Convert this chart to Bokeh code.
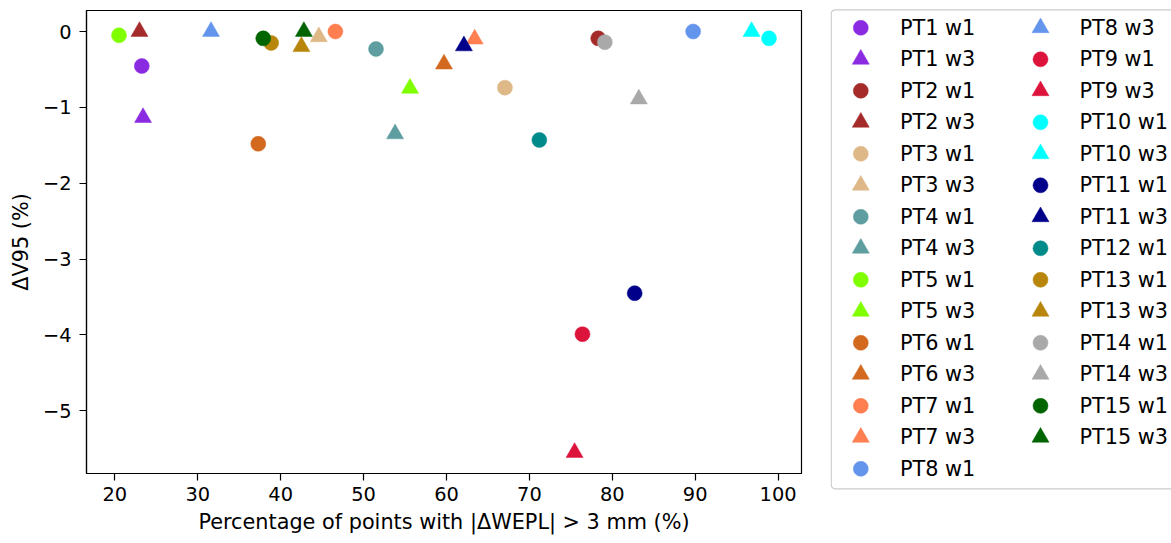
from bokeh.plotting import figure
from bokeh.models import FixedTicker, Range1d, Quad
from bokeh.layouts import row
from bokeh.core.properties import value
from bokeh.embed import file_html
from bokeh.resources import INLINE

# ---- data ----
patients = ["PT1", "PT2", "PT3", "PT4", "PT5", "PT6", "PT7", "PT8",
            "PT9", "PT10", "PT11", "PT12", "PT13", "PT14", "PT15"]
colors = ["blueviolet", "brown", "burlywood", "cadetblue", "chartreuse",
          "chocolate", "coral", "cornflowerblue", "crimson", "cyan",
          "darkblue", "darkcyan", "darkgoldenrod", "darkgray", "darkgreen"]

w1_x = [23.25, 78.3, 67.05, 51.5, 20.5, 37.3, 46.6, 89.75,
        76.4, 98.9, 82.7, 71.2, 38.85, 79.1, 37.9]
w1_y = [-0.455, -0.09, -0.74, -0.23, -0.05, -1.48, 0.0, 0.0,
        -3.99, -0.09, -3.45, -1.43, -0.15, -0.14, -0.09]

# None = no week-3 value (PT12)
w3_x = [23.4, 22.97, 44.6, 53.8, 55.6, 59.7, 63.4, 31.6,
        75.45, 96.8, 62.1, None, 42.5, 83.2, 42.8]
w3_y = [-1.135, 0.0, -0.07, -1.35, -0.75, -0.43, -0.1, 0.0,
        -5.55, 0.0, -0.19, None, -0.2, -0.89, 0.0]

x_ticks = [20, 30, 40, 50, 60, 70, 80, 90, 100]
y_ticks = [-5, -4, -3, -2, -1, 0]
y_tick_labels = ["\u22125", "\u22124", "\u22123", "\u22122", "\u22121", "0"]

x_label = "Percentage of points with |\u0394WEPL| > 3 mm (%)"
y_label = "\u0394V95 (%)"

FONT = "DejaVu Sans"
CIRCLE_SIZE = 15
TRIANGLE_SIZE = 17

# ---------------- main scatter plot ----------------
p = figure(width=830, height=543, output_backend="svg", toolbar_location=None,
           x_range=Range1d(16.58, 102.82), y_range=Range1d(-5.827, 0.277),
           min_border_left=86, min_border_right=29, min_border_top=10,
           min_border_bottom=70)
p.frame_align = False
p.background_fill_color = "white"
p.border_fill_color = "white"
p.outline_line_color = "black"
p.outline_line_width = 1.2
p.grid.visible = False

for ax in (p.xaxis[0], p.yaxis[0]):
    ax.axis_line_color = "black"
    ax.axis_line_width = 1.2
    ax.major_tick_line_color = "black"
    ax.major_tick_line_width = 1.2
    ax.major_tick_out = 7
    ax.major_tick_in = 0
    ax.minor_tick_line_color = None
    ax.major_label_text_font = FONT
    ax.major_label_text_font_size = "19.4px"
    ax.major_label_text_color = "black"
    ax.axis_label_text_font = FONT
    ax.axis_label_text_font_size = "20.8px"
    ax.axis_label_text_font_style = "normal"
    ax.axis_label_text_color = "black"

p.xaxis.ticker = FixedTicker(ticks=x_ticks)
p.yaxis.ticker = FixedTicker(ticks=y_ticks)
p.yaxis.major_label_overrides = {t: l for t, l in zip(y_ticks, y_tick_labels)}
p.xaxis.axis_label = x_label
p.yaxis.axis_label = y_label
p.xaxis.major_label_standoff = 6
p.yaxis.major_label_standoff = 8
p.xaxis.axis_label_standoff = 6
p.yaxis.axis_label_standoff = 7

entries = []  # (label, color, marker)
for i, pt in enumerate(patients):
    p.scatter(x=[w1_x[i]], y=[w1_y[i]], marker="circle", size=CIRCLE_SIZE,
              fill_color=colors[i], line_color=colors[i], line_width=0.5)
    entries.append((f"{pt} w1", colors[i], "circle"))
    if w3_x[i] is not None:
        p.scatter(x=[w3_x[i]], y=[w3_y[i]], marker="triangle", size=TRIANGLE_SIZE,
                  fill_color=colors[i], line_color=colors[i], line_width=0.5)
        entries.append((f"{pt} w3", colors[i], "triangle"))

# ---------------- legend panel (pixel coordinates) ----------------
LW, LH = 341, 543
lg = figure(width=LW, height=LH, output_backend="svg", toolbar_location=None,
            x_range=Range1d(0, LW), y_range=Range1d(LH, 0),
            x_axis_type=None, y_axis_type=None, min_border=0)
lg.frame_align = False
lg.outline_line_color = None
lg.grid.visible = False
lg.background_fill_color = "white"
lg.border_fill_color = "white"

box = lg.quad(left=[0.7], right=[LW + 20], top=[9.3], bottom=[488.3],
              fill_color="white", line_color="#cccccc", line_width=1.3)
if "border_radius" in Quad.properties():
    box.glyph.border_radius = 4

rows_per_col = 15
row0, pitch = 27.3, 31.5
col_marker_x = [30.3, 210.0]
col_text_x = [69.5, 249.0]
mx, my, mc, mk, ms = [], [], [], [], []
tx, ty, tt = [], [], []
for i, (lab, col, mark) in enumerate(entries):
    c, r = divmod(i, rows_per_col)
    yy = row0 + pitch * r
    mx.append(col_marker_x[c]); my.append(yy); mc.append(col); mk.append(mark)
    ms.append(CIRCLE_SIZE if mark == "circle" else TRIANGLE_SIZE)
    tx.append(col_text_x[c]); ty.append(yy); tt.append(lab)

lg.scatter(x=mx, y=my, marker=mk, size=ms, fill_color=mc, line_color=mc,
           line_width=0.5)
lg.text(x=tx, y=ty, text=tt, text_font=value(FONT), text_font_size="20.8px",
        text_color="black", text_baseline="middle", text_align="left")

layout = row(p, lg)
open("out.html", "w").write(file_html(layout, INLINE))
